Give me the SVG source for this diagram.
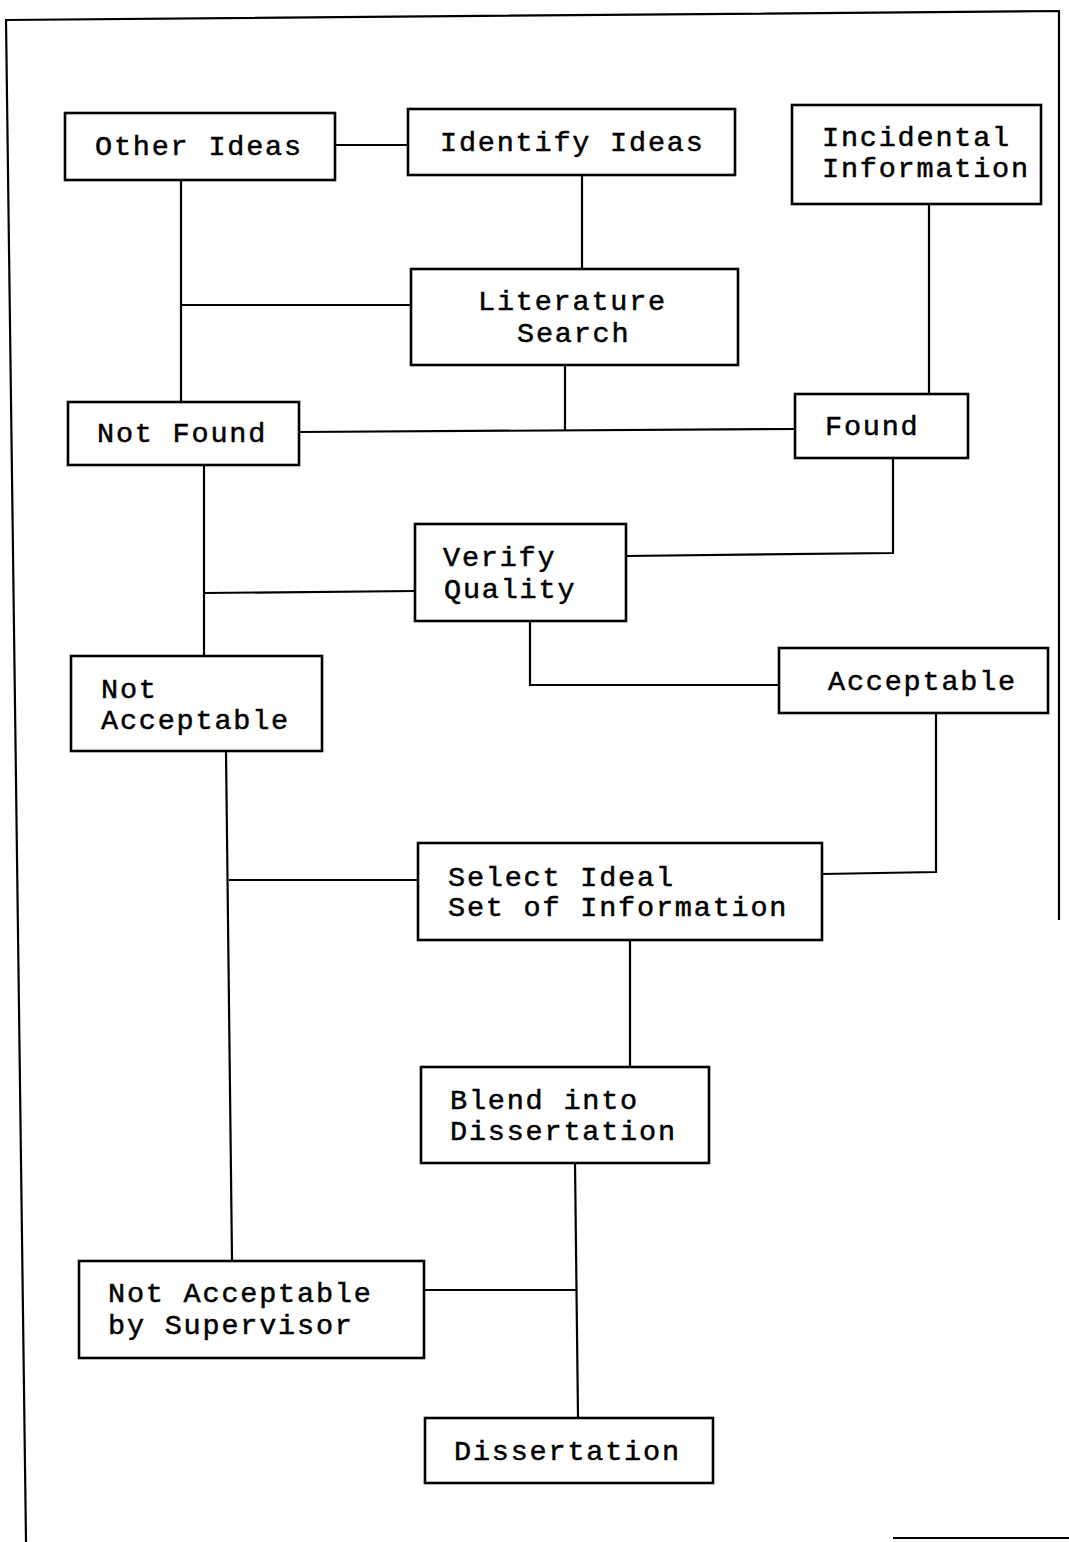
<svg xmlns="http://www.w3.org/2000/svg" width="1069" height="1542" viewBox="0 0 1069 1542">
<style>
.box{fill:#fff;stroke:#000;stroke-width:2.6}
.c{fill:none;stroke:#000;stroke-width:2.2}
.frame{fill:none;stroke:#000;stroke-width:2.2}
text{font-family:"Liberation Mono","DejaVu Sans Mono",monospace;font-size:28.5px;letter-spacing:1.8px;fill:#000;stroke:#000;stroke-width:0.5}
</style>
<rect width="1069" height="1542" fill="#fff"/>
<g id="frame">
<path class="frame" d="M5,20 L1060,11 M6,20 L26,1542 M1059,11 L1059,920 M893,1538 L1069,1538"/>
</g>
<g id="connectors">
<path class="c" d="M335,145 H408"/>
<path class="c" d="M582,175 V268"/>
<path class="c" d="M181,180 V401"/>
<path class="c" d="M181,305 H411"/>
<path class="c" d="M565,365 V431"/>
<path class="c" d="M299,432 L795,429"/>
<path class="c" d="M929,204 V393"/>
<path class="c" d="M893,458 V553 L626,556"/>
<path class="c" d="M204,465 V655"/>
<path class="c" d="M204,593 L415,591"/>
<path class="c" d="M530,621 V685 H779"/>
<path class="c" d="M936,713 V872 L822,874"/>
<path class="c" d="M226,751 L232,1260"/>
<path class="c" d="M229,880 H418"/>
<path class="c" d="M630,940 V1066"/>
<path class="c" d="M575,1163 L578,1417"/>
<path class="c" d="M424,1290 H576"/>
</g>
<g id="other-ideas"><rect class="box" x="65" y="113" width="270" height="67"/><text x="95" y="155">Other Ideas</text></g>
<g id="identify-ideas"><rect class="box" x="408" y="109" width="327" height="66"/><text x="440" y="151">Identify Ideas</text></g>
<g id="incidental-information"><rect class="box" x="792" y="105" width="249" height="99"/><text x="822" y="146">Incidental</text><text x="822" y="177">Information</text></g>
<g id="literature-search"><rect class="box" x="411" y="269" width="327" height="96"/><text x="478" y="310">Literature</text><text x="517" y="342">Search</text></g>
<g id="not-found"><rect class="box" x="68" y="402" width="231" height="63"/><text x="97" y="442">Not Found</text></g>
<g id="found"><rect class="box" x="795" y="394" width="173" height="64"/><text x="825" y="435">Found</text></g>
<g id="verify-quality"><rect class="box" x="415" y="524" width="211" height="97"/><text x="443" y="566">Verify</text><text x="444" y="598">Quality</text></g>
<g id="acceptable"><rect class="box" x="779" y="648" width="269" height="65"/><text x="828" y="690">Acceptable</text></g>
<g id="not-acceptable"><rect class="box" x="71" y="656" width="251" height="95"/><text x="101" y="698">Not</text><text x="101" y="729">Acceptable</text></g>
<g id="select-ideal"><rect class="box" x="418" y="843" width="404" height="97"/><text x="448" y="886">Select Ideal</text><text x="448" y="916">Set of Information</text></g>
<g id="blend"><rect class="box" x="421" y="1067" width="288" height="96"/><text x="450" y="1109">Blend into</text><text x="450" y="1140">Dissertation</text></g>
<g id="not-acceptable-supervisor"><rect class="box" x="79" y="1261" width="345" height="97"/><text x="108" y="1302">Not Acceptable</text><text x="108" y="1334">by Supervisor</text></g>
<g id="dissertation"><rect class="box" x="425" y="1418" width="288" height="65"/><text x="454" y="1460">Dissertation</text></g>
</svg>
